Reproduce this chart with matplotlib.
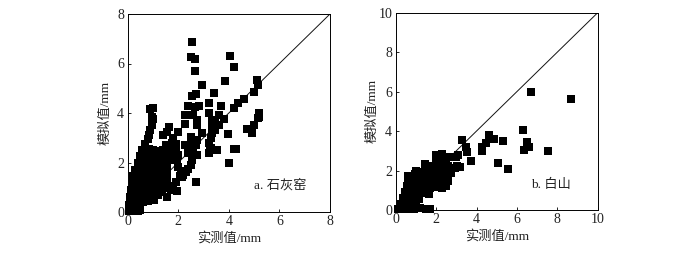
import matplotlib
matplotlib.use('Agg')
import matplotlib.pyplot as plt

plt.rcParams['font.family'] = ['Liberation Serif', 'Noto Sans CJK SC']

# panel a, outliers and arms
points_a = [
    (2.53, 6.85), (2.5, 6.25), (2.65, 6.2), (2.65, 5.7), (2.93, 5.15), (4.05, 6.3), (4.2, 5.85),
    (3.85, 5.3), (5.1, 5.35), (5.15, 5.15), (5.0, 4.85), (4.6, 4.55), (4.35, 4.4), (4.2, 4.2),
    (3.4, 4.8), (2.7, 4.75), (2.55, 4.7), (3.2, 4.4), (3.7, 4.3), (2.4, 4.3), (2.65, 4.25),
    (2.8, 4.3), (3.2, 4.0), (5.2, 4.0), (5.2, 3.85), (5.15, 3.8), (5.0, 3.5), (4.9, 3.2),
    (4.7, 3.35), (3.95, 3.15), (3.6, 3.9), (3.8, 3.75), (3.35, 3.7), (3.45, 3.6), (3.6, 3.5),
    (3.35, 3.45), (3.35, 3.2), (3.3, 3.0), (3.2, 2.8), (3.3, 2.6), (3.2, 2.4), (3.55, 2.5),
    (4.2, 2.55), (4.3, 2.55), (4.0, 2.0), (2.7, 1.2), (2.95, 3.2), (2.75, 3.7), (2.75, 3.5),
    (2.25, 3.9), (2.6, 3.9), (2.25, 3.55), (2.0, 3.25), (2.5, 3.05), (2.75, 2.9), (2.7, 2.7),
    (2.6, 2.8), (2.25, 2.7), (2.4, 2.4), (2.75, 2.3), (2.55, 2.1), (2.5, 1.9), (2.3, 1.6),
    (2.15, 1.4), (1.95, 0.85), (1.55, 0.6), (1.9, 1.2), (1.7, 0.9), (2.0, 1.8), (2.1, 1.65),
    (0.9, 4.15), (1.0, 4.2), (0.95, 3.85), (1.0, 3.75), (0.95, 3.5), (0.9, 3.3), (0.85, 3.1),
    (1.4, 3.1), (1.65, 3.45), (1.55, 3.25), (1.8, 3.0), (1.75, 2.8), (1.7, 2.6), (1.9, 2.5),
    (2.0, 2.3), (1.85, 2.1), (1.4, 2.5), (1.6, 2.3), (1.0, 2.5), (1.2, 2.45), (1.3, 2.3),
    (1.5, 2.7), (1.7, 2.35), (1.95, 2.1), (2.05, 1.45), (2.2, 1.5), (1.8, 1.05), (2.4, 1.75),
    (3.45, 3.3), (3.25, 2.6), (2.5, 2.55), (2.6, 2.4), (1.9, 2.75),
]
# panel a, dense block near the origin
block_a = [
    (0.05, 0.05), (0.05, 0.3), (0.1, 0.6), (0.15, 0.9), (0.2, 1.2), (0.2, 1.45), (0.3, 1.7),
    (0.4, 2.0), (0.5, 2.25), (0.55, 2.5), (0.7, 2.75), (0.8, 2.95), (0.2, 0.05), (0.4, 0.05),
    (0.5, 0.1), (0.3, 0.4), (0.4, 0.7), (0.4, 1.0), (0.4, 1.3), (0.45, 1.6), (0.6, 0.4),
    (0.6, 0.7), (0.6, 1.0), (0.6, 1.3), (0.6, 1.6), (0.6, 1.9), (0.7, 2.2), (0.8, 0.45),
    (0.8, 0.75), (0.8, 1.05), (0.8, 1.35), (0.8, 1.65), (0.8, 1.95), (0.85, 2.3), (1.05, 0.5),
    (1.0, 0.75), (1.15, 1.0), (1.0, 1.3), (1.0, 1.6), (1.0, 1.9), (1.05, 2.2), (1.2, 0.7),
    (1.25, 1.3), (1.2, 1.6), (1.2, 1.9), (1.2, 2.15), (1.35, 0.8), (1.4, 1.1), (1.4, 1.4),
    (1.4, 1.7), (1.35, 2.0), (1.5, 0.95), (1.55, 1.25), (1.55, 1.55), (1.55, 1.85), (1.5, 2.05),
    (0.3, 0.2), (0.3, 0.8), (0.3, 1.15), (0.3, 1.45), (0.5, 0.55), (0.5, 0.85), (0.5, 1.15),
    (0.5, 1.45), (0.5, 1.75), (0.5, 2.0), (0.7, 0.55), (0.7, 0.9), (0.7, 1.2), (0.7, 1.5),
    (0.7, 1.8), (0.7, 2.05), (0.7, 2.45), (0.9, 0.6), (0.9, 0.9), (0.9, 1.2), (0.9, 1.5),
    (0.9, 1.8), (0.9, 2.1), (0.85, 2.55), (1.1, 0.9), (1.1, 1.2), (1.1, 1.45), (1.1, 1.75),
    (1.1, 2.05), (1.3, 1.0), (1.3, 1.15), (1.3, 1.5), (1.3, 1.8), (1.45, 1.25), (1.45, 1.55),
    (1.45, 1.85), (0.15, 0.45), (0.2, 0.7), (0.25, 1.0),
]
# panel b, outliers
points_b = [
    (6.7, 6.0), (8.7, 5.65), (6.3, 4.05), (7.55, 3.0), (6.5, 3.45), (6.6, 3.2), (6.35, 3.05),
    (5.3, 3.5), (4.85, 3.6), (4.6, 3.8), (4.45, 3.4), (4.25, 3.2), (4.25, 3.0), (5.05, 2.4),
    (5.55, 2.1), (3.3, 3.55), (3.5, 3.2), (3.55, 2.95), (3.75, 2.5), (3.1, 2.8), (3.0, 2.7),
    (2.7, 2.7), (3.2, 2.2), (3.05, 2.25), (2.95, 2.15), (2.3, 2.85), (2.0, 2.8), (1.45, 2.35),
    (1.0, 2.0), (0.6, 1.7), (0.6, 1.5), (0.8, 1.65), (2.75, 1.9), (2.6, 1.45), (2.5, 2.55),
]
# panel b, dense block near the origin
block_b = [
    (0.1, 0.05), (0.3, 0.05), (0.6, 0.05), (0.9, 0.05), (1.2, 0.1), (1.5, 0.05), (1.7, 0.05),
    (0.25, 0.3), (0.5, 0.3), (0.8, 0.3), (0.35, 0.6), (0.6, 0.6), (0.9, 0.55), (1.15, 0.55),
    (0.45, 0.9), (0.7, 0.9), (1.0, 0.85), (1.3, 0.85), (1.65, 0.8), (0.55, 1.2), (0.8, 1.2),
    (1.1, 1.15), (1.4, 1.15), (1.7, 1.1), (2.0, 1.15), (2.3, 1.1), (0.9, 1.5), (1.2, 1.45),
    (1.5, 1.4), (1.8, 1.4), (2.1, 1.4), (2.4, 1.3), (1.15, 1.8), (1.4, 1.75), (1.7, 1.7),
    (2.0, 1.7), (2.3, 1.65), (1.45, 2.05), (1.7, 2.05), (1.95, 2.0), (2.25, 1.95), (2.5, 1.9),
    (1.85, 2.25), (2.2, 2.3), (2.4, 2.3), (2.2, 2.65), (0.95, 1.8), (0.7, 1.45), (0.45, 0.55),
    (1.0, 0.4), (1.35, 1.95), (1.9, 1.2), (2.6, 2.25), (2.0, 2.45), (1.6, 2.25), (2.5, 1.2),
]
ticks_a = [0, 2, 4, 6, 8]
ticks_b = [0, 2, 4, 6, 8, 10]
label_x = '实测值/mm'
label_y = '模拟值/mm'
txt_color = '#222222'


def draw(ax, pts, limit, ticks, note, note_pos, ypad):
    xs = [p[0] for p in pts]
    ys = [p[1] for p in pts]
    ax.plot([0, limit], [0, limit], color='#111111', lw=0.7, zorder=1)
    ax.scatter(xs, ys, marker='s', s=30, color='black', linewidths=0, clip_on=False, zorder=2)
    ax.set_xlim(0, limit)
    ax.set_ylim(0, limit)
    ax.set_xticks(ticks)
    ax.set_yticks(ticks)
    ax.tick_params(direction='in', length=2.5, width=0.6, labelsize=10, pad=2.5, labelcolor=txt_color)
    ax.set_xlabel(label_x, fontsize=9.5, color=txt_color, labelpad=2.5)
    ax.set_ylabel(label_y, fontsize=9.5, color=txt_color, labelpad=ypad)
    for s in ax.spines.values():
        s.set_linewidth(0.7)
    ax.text(note_pos[0], note_pos[1], note, fontsize=9.5, color=txt_color, ha='left', va='center')


W, H = 700, 254
fig = plt.figure(figsize=(W / 100, H / 100), dpi=100)
ax1 = fig.add_axes([127.7 / W, 1 - 212 / H, 202.3 / W, 198 / H])
ax2 = fig.add_axes([395.7 / W, 1 - 210 / H, 202 / W, 197.3 / H])
draw(ax1, points_a + block_a, 8, ticks_a, 'a. 石灰窑', (5.0, 1.1), 4)
draw(ax2, points_b + block_b, 10, ticks_b, 'b. 白山', (6.7, 1.25), 0)
fig.savefig('out.png', dpi=100)
